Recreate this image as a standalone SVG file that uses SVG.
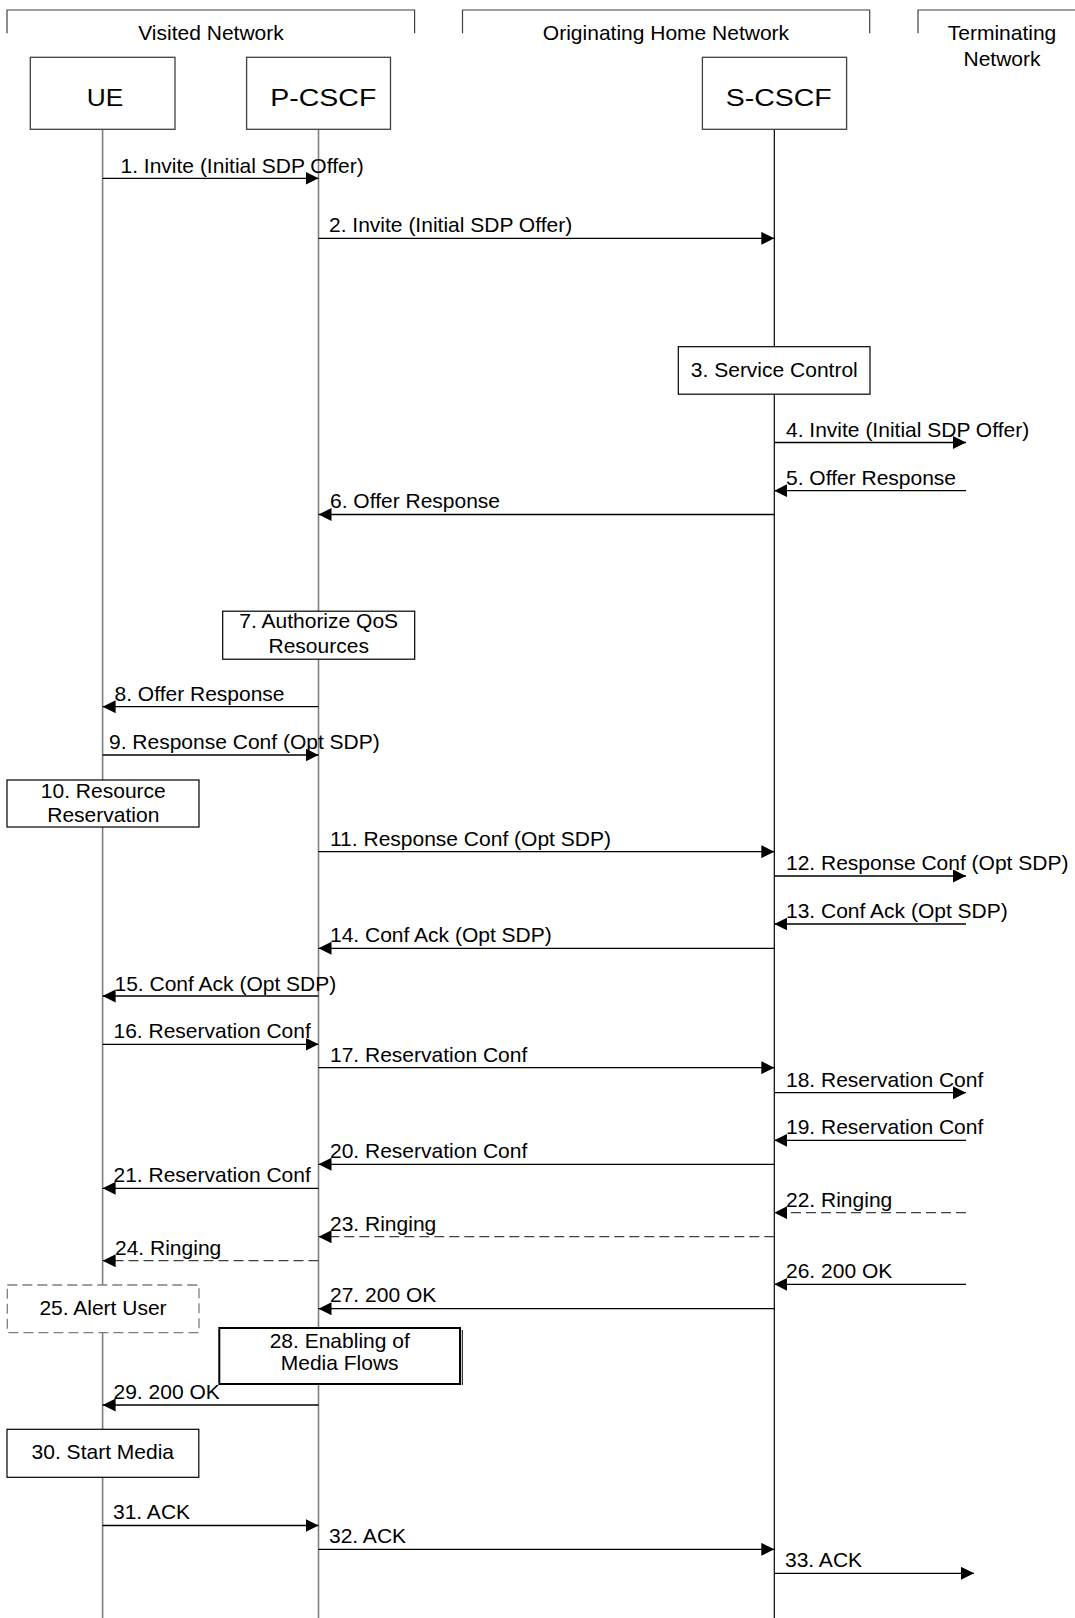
<svg xmlns="http://www.w3.org/2000/svg" width="1075" height="1618" viewBox="0 0 1075 1618">
<style>
text{font-family:"Liberation Sans",Arial,sans-serif;font-size:21px;fill:#000}
.hdr{fill:none;stroke:#404040;stroke-width:1.2}
.node{fill:#fff;stroke:#404040;stroke-width:1.3}
.title{font-size:23.5px}
.life{stroke:#7f7f7f;stroke-width:1.6}
.lifeS{stroke:#000;stroke-width:1.2}
.act{fill:#fff;stroke:#000;stroke-width:1.2}
.msg{stroke:#000;stroke-width:1.3;fill:none;marker-end:url(#ah)}
.dash{stroke-dasharray:10 5;stroke:#404040}
.mid{text-anchor:middle}
</style>
<defs>
<marker id="ah" markerUnits="userSpaceOnUse" markerWidth="14" markerHeight="14" refX="13" refY="6.5" orient="auto">
<path d="M0,0 L13,6.5 L0,13 z" fill="#000"/>
</marker>
</defs>
<rect x="0" y="0" width="1075" height="1618" fill="#fff"/>

<g id="hdr-visited">
<path class="hdr" d="M7,33.3 V10 H414.6 V33.3"/>
<text x="211" y="40" class="mid">Visited Network</text>
</g>
<g id="hdr-home">
<path class="hdr" d="M462.5,33.3 V10 H869.7 V33.3"/>
<text x="666" y="40" class="mid">Originating Home Network</text>
</g>
<g id="hdr-term">
<path class="hdr" d="M918,33.3 V10 H1075"/>
<text x="1002" y="40" class="mid">Terminating</text>
<text x="1002" y="66" class="mid">Network</text>
</g>

<g id="UE">
<line class="life" x1="102.6" y1="129.3" x2="102.6" y2="1618"/>
<rect class="node" x="30.3" y="57.3" width="144.7" height="72"/>
<text x="86.8" y="106" class="title" textLength="36.5" lengthAdjust="spacingAndGlyphs">UE</text>
</g>
<g id="P-CSCF">
<line class="life" x1="318.5" y1="129.3" x2="318.5" y2="1618"/>
<rect class="node" x="246.6" y="57.3" width="143.9" height="72"/>
<text x="270.3" y="106" class="title" textLength="106" lengthAdjust="spacingAndGlyphs">P-CSCF</text>
</g>
<g id="S-CSCF">
<line class="lifeS" x1="774.3" y1="129.3" x2="774.3" y2="1618"/>
<rect class="node" x="702.4" y="57.3" width="144.2" height="72"/>
<text x="725.7" y="106" class="title" textLength="106" lengthAdjust="spacingAndGlyphs">S-CSCF</text>
</g>

<g id="step3">
<rect class="act" x="678.3" y="346.7" width="191.7" height="47.5"/>
<text x="774.3" y="377" class="mid">3. Service Control</text>
</g>
<g id="step7">
<rect class="act" x="222.7" y="611.2" width="192" height="48"/>
<text x="318.7" y="628.3" class="mid">7. Authorize QoS</text>
<text x="318.7" y="653.3" class="mid">Resources</text>
</g>
<g id="step10">
<rect class="act" x="7" y="780" width="192" height="47"/>
<text x="103.3" y="797.5" class="mid">10. Resource</text>
<text x="103.3" y="822" class="mid">Reservation</text>
</g>
<g id="step25">
<rect x="7.3" y="1285" width="191.7" height="47.7" fill="#fff" stroke="#7f7f7f" stroke-width="1.3" stroke-dasharray="10 5"/>
<text x="103" y="1315" class="mid">25. Alert User</text>
</g>
<g id="step28">
<rect x="219.3" y="1328" width="240.7" height="56" fill="#fff" stroke="#000" stroke-width="2"/>
<line x1="462.3" y1="1330" x2="462.3" y2="1385" stroke="#000" stroke-width="1"/>
<text x="339.7" y="1348.3" class="mid">28. Enabling of</text>
<text x="339.7" y="1370" class="mid">Media Flows</text>
</g>
<g id="step30">
<rect class="act" x="7" y="1429.3" width="191.8" height="48"/>
<text x="102.8" y="1459" class="mid">30. Start Media</text>
</g>

<g id="connectors">
<line class="msg" x1="102.6" y1="178.3" x2="318.5" y2="178.3"/>
<text x="120.5" y="172.5">1. Invite (Initial SDP Offer)</text>
<line class="msg" x1="318.5" y1="238.3" x2="774.3" y2="238.3"/>
<text x="329" y="231.8">2. Invite (Initial SDP Offer)</text>
<line class="msg" x1="774.3" y1="442.5" x2="966" y2="442.5"/>
<text x="786" y="436.5">4. Invite (Initial SDP Offer)</text>
<line class="msg" x1="966" y1="490.7" x2="774.3" y2="490.7"/>
<text x="786" y="485">5. Offer Response</text>
<line class="msg" x1="774.3" y1="514.5" x2="318.5" y2="514.5"/>
<text x="330" y="508">6. Offer Response</text>
<line class="msg" x1="318.5" y1="706.7" x2="102.6" y2="706.7"/>
<text x="114.5" y="700.5">8. Offer Response</text>
<line class="msg" x1="102.6" y1="755" x2="318.5" y2="755"/>
<text x="109" y="749">9. Response Conf (Opt SDP)</text>
<line class="msg" x1="318.5" y1="851.7" x2="774.3" y2="851.7"/>
<text x="330" y="845.7">11. Response Conf (Opt SDP)</text>
<line class="msg" x1="774.3" y1="876" x2="966" y2="876"/>
<text x="786" y="870">12. Response Conf (Opt SDP)</text>
<line class="msg" x1="966" y1="924" x2="774.3" y2="924"/>
<text x="786" y="918">13. Conf Ack (Opt SDP)</text>
<line class="msg" x1="774.3" y1="948.3" x2="318.5" y2="948.3"/>
<text x="330" y="942">14. Conf Ack (Opt SDP)</text>
<line class="msg" x1="318.5" y1="996" x2="102.6" y2="996"/>
<text x="114.5" y="990.5">15. Conf Ack (Opt SDP)</text>
<line class="msg" x1="102.6" y1="1044.3" x2="318.5" y2="1044.3"/>
<text x="113.5" y="1038.3">16. Reservation Conf</text>
<line class="msg" x1="318.5" y1="1067.7" x2="774.3" y2="1067.7"/>
<text x="330" y="1061.7">17. Reservation Conf</text>
<line class="msg" x1="774.3" y1="1092.7" x2="966" y2="1092.7"/>
<text x="786" y="1086.7">18. Reservation Conf</text>
<line class="msg" x1="966" y1="1140.3" x2="774.3" y2="1140.3"/>
<text x="786" y="1134.3">19. Reservation Conf</text>
<line class="msg" x1="774.3" y1="1164.3" x2="318.5" y2="1164.3"/>
<text x="330" y="1158.3">20. Reservation Conf</text>
<line class="msg" x1="318.5" y1="1188.3" x2="102.6" y2="1188.3"/>
<text x="113.5" y="1182.3">21. Reservation Conf</text>
<line class="msg dash" x1="966" y1="1212.7" x2="774.3" y2="1212.7"/>
<text x="786" y="1206.5">22. Ringing</text>
<line class="msg dash" x1="774.3" y1="1236.7" x2="318.5" y2="1236.7"/>
<text x="330" y="1230.5">23. Ringing</text>
<line class="msg dash" x1="318.5" y1="1260.7" x2="102.6" y2="1260.7"/>
<text x="115" y="1254.5">24. Ringing</text>
<line class="msg" x1="966" y1="1284.3" x2="774.3" y2="1284.3"/>
<text x="786" y="1278.3">26. 200 OK</text>
<line class="msg" x1="774.3" y1="1308.7" x2="318.5" y2="1308.7"/>
<text x="330" y="1302.3">27. 200 OK</text>
<line class="msg" x1="318.5" y1="1405" x2="102.6" y2="1405"/>
<text x="113.5" y="1399">29. 200 OK</text>
<line class="msg" x1="102.6" y1="1525.5" x2="318.5" y2="1525.5"/>
<text x="113" y="1519.3">31. ACK</text>
<line class="msg" x1="318.5" y1="1549.3" x2="774.3" y2="1549.3"/>
<text x="329" y="1543.3">32. ACK</text>
<line class="msg" x1="774.3" y1="1573.3" x2="974" y2="1573.3"/>
<text x="785" y="1567.3">33. ACK</text>
</g>
</svg>
